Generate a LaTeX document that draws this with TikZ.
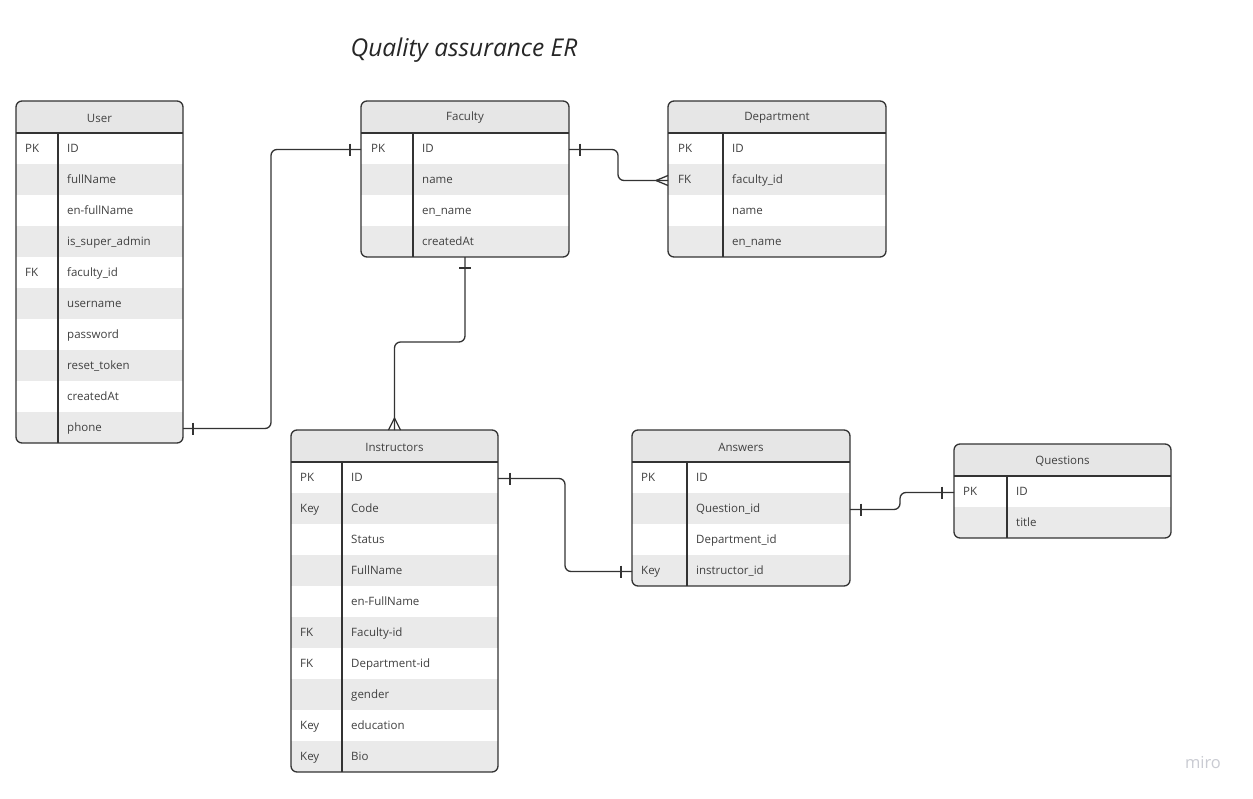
\documentclass[tikz,border=0pt]{standalone}
\usepackage{fontspec}
\setmainfont{Open Sans}
\usetikzlibrary{positioning, calc}
\definecolor{linec}{HTML}{333333}
\definecolor{hdrc}{HTML}{E6E6E6}
\definecolor{stripe}{HTML}{EAEAEA}
\definecolor{txtc}{HTML}{404040}
\definecolor{miroc}{HTML}{C9CBD2}

\begin{document}
\begin{tikzpicture}[
  x=1pt, y=-1pt,
  tbl/.style={draw=linec, line width=1.3pt, rounded corners=6, anchor=north west, inner sep=0pt, outer sep=0pt},
  hdrtxt/.style={font=\fontsize{11.5}{14}\selectfont, text=txtc, inner sep=0pt, yshift=-1pt},
  celltxt/.style={anchor=west, inner sep=0pt, text height=9pt, text depth=3pt, yshift=-1.5pt, font=\fontsize{11.5}{14}\selectfont, text=txtc},
  sep/.style={draw=linec, line width=1.3pt},
  rel/.style={draw=linec, line width=1.3pt, rounded corners=6},
  bar/.style={draw=linec, line width=1.3pt}
]
\fill[white] (0,0) rectangle (1253,798);
\useasboundingbox (0,0) rectangle (1253,798);

% Title
\node[font=\fontsize{24.5}{28}\selectfont\itshape, text=black!85] (Title) at (464,50) {Quality assurance ER};

% User
\begin{scope}
  \clip[rounded corners=6] (16,101) rectangle (183,443);
  \fill[hdrc] (16,101) rectangle (183,133);
  \foreach \k/\f [count=\i] in {PK/ID, /fullName, /en-fullName, /is\_super\_admin, FK/faculty\_id, /username, /password, /reset\_token, /createdAt, /phone}{
    \ifodd\i\else \fill[stripe] (16,{102+31*\i}) rectangle (183,{133+31*\i});\fi
    \node[celltxt] (U-k\i) at (25,{117+31*\i}) {\k};
    \node[celltxt] (U-\i) at (67,{117+31*\i}) {\f};
  }
\end{scope}
\node[tbl, minimum width=167, minimum height=342] (User) at (16,101) {};
\node[hdrtxt] (User-h) at (99.5,117) {User};
\draw[sep] (16,133) -- (183,133) (58,133) -- (58,443);

% Faculty
\begin{scope}
  \clip[rounded corners=6] (361,101) rectangle (569,257);
  \fill[hdrc] (361,101) rectangle (569,133);
  \foreach \k/\f [count=\i] in {PK/ID, /name, /en\_name, /createdAt}{
    \ifodd\i\else \fill[stripe] (361,{102+31*\i}) rectangle (569,{133+31*\i});\fi
    \node[celltxt] (F-k\i) at (371,{117+31*\i}) {\k};
    \node[celltxt] (F-\i) at (422,{117+31*\i}) {\f};
  }
\end{scope}
\node[tbl, minimum width=208, minimum height=156] (Faculty) at (361,101) {};
\node[hdrtxt] (Faculty-h) at (465,117) {Faculty};
\draw[sep] (361,133) -- (569,133) (413,133) -- (413,257);

% Department
\begin{scope}
  \clip[rounded corners=6] (668,101) rectangle (886,257);
  \fill[hdrc] (668,101) rectangle (886,133);
  \foreach \k/\f [count=\i] in {PK/ID, FK/faculty\_id, /name, /en\_name}{
    \ifodd\i\else \fill[stripe] (668,{102+31*\i}) rectangle (886,{133+31*\i});\fi
    \node[celltxt] (D-k\i) at (678,{117+31*\i}) {\k};
    \node[celltxt] (D-\i) at (732,{117+31*\i}) {\f};
  }
\end{scope}
\node[tbl, minimum width=218, minimum height=156] (Department) at (668,101) {};
\node[hdrtxt] (Department-h) at (777,117) {Department};
\draw[sep] (668,133) -- (886,133) (723,133) -- (723,257);

% Instructors
\begin{scope}
  \clip[rounded corners=6] (291,430) rectangle (498,772);
  \fill[hdrc] (291,430) rectangle (498,462);
  \foreach \k/\f [count=\i] in {PK/ID, Key/Code, /Status, /FullName, /en-FullName, FK/Faculty-id, FK/Department-id, /gender, Key/education, Key/Bio}{
    \ifodd\i\else \fill[stripe] (291,{431+31*\i}) rectangle (498,{462+31*\i});\fi
    \node[celltxt] (I-k\i) at (300,{446+31*\i}) {\k};
    \node[celltxt] (I-\i) at (351,{446+31*\i}) {\f};
  }
\end{scope}
\node[tbl, minimum width=207, minimum height=342] (Instructors) at (291,430) {};
\node[hdrtxt] (Instructors-h) at (394.5,446) {Instructors};
\draw[sep] (291,462) -- (498,462) (342,462) -- (342,772);

% Answers
\begin{scope}
  \clip[rounded corners=6] (632,430) rectangle (850,586);
  \fill[hdrc] (632,430) rectangle (850,462);
  \foreach \k/\f [count=\i] in {PK/ID, /Question\_id, /Department\_id, Key/instructor\_id}{
    \ifodd\i\else \fill[stripe] (632,{431+31*\i}) rectangle (850,{462+31*\i});\fi
    \node[celltxt] (A-k\i) at (641,{446+31*\i}) {\k};
    \node[celltxt] (A-\i) at (696,{446+31*\i}) {\f};
  }
\end{scope}
\node[tbl, minimum width=218, minimum height=156] (Answers) at (632,430) {};
\node[hdrtxt] (Answers-h) at (741,446) {Answers};
\draw[sep] (632,462) -- (850,462) (687,462) -- (687,586);

% Questions
\begin{scope}
  \clip[rounded corners=6] (954,444) rectangle (1171,538);
  \fill[hdrc] (954,444) rectangle (1171,476);
  \foreach \k/\f [count=\i] in {PK/ID, /title}{
    \ifodd\i\else \fill[stripe] (954,{445+31*\i}) rectangle (1171,{476+31*\i});\fi
    \node[celltxt] (Q-k\i) at (963,{460+31*\i}) {\k};
    \node[celltxt] (Q-\i) at (1016,{460+31*\i}) {\f};
  }
\end{scope}
\node[tbl, minimum width=217, minimum height=94] (Questions) at (954,444) {};
\node[hdrtxt] (Questions-h) at (1062.5,460) {Questions};
\draw[sep] (954,476) -- (1171,476) (1007,476) -- (1007,538);

% Relations
% User -- Faculty (one to one)
\draw[rel] (User.east |- U-10) -- ++(88,0) |- (Faculty.west |- F-1);
\draw[bar] ($(User.east |- U-10)+(10,-6)$) -- ++(0,12);
\draw[bar] ($(Faculty.west |- F-1)+(-11,-6)$) -- ++(0,12);

% Faculty -- Department (one to many)
\draw[rel] (Faculty.east |- F-1) -- ++(49,0) |- (Department.west |- D-2);
\draw[bar] ($(Faculty.east |- F-1)+(11,-6)$) -- ++(0,12);
\coordinate (cfD) at ($(Department.west |- D-2)+(-12,0)$);
\draw[bar] (cfD) -- ++(12,-5) (cfD) -- ++(12,5);

% Faculty -- Instructors (one to many)
\draw[rel] (Faculty.south) -- ++(0,85) -| (Instructors.north);
\draw[bar] ($(Faculty.south)+(-6,11)$) -- ++(12,0);
\coordinate (cfI) at ($(Instructors.north)+(0,-12)$);
\draw[bar] (cfI) -- ++(-6,12) (cfI) -- ++(6,12);

% Instructors -- Answers
\draw[rel] (Instructors.east |- I-1) -- ++(67,0) |- (Answers.west |- A-4);
\draw[bar] ($(Instructors.east |- I-1)+(12,-6)$) -- ++(0,12);
\draw[bar] ($(Answers.west |- A-4)+(-11,-6)$) -- ++(0,12);

% Answers -- Questions
\draw[rel] (Answers.east |- A-2) -- ++(50,0) |- (Questions.west |- Q-1);
\draw[bar] ($(Answers.east |- A-2)+(11,-6)$) -- ++(0,12);
\draw[bar] ($(Questions.west |- Q-1)+(-12,-6)$) -- ++(0,12);

% watermark
\node[font=\fontsize{16.5}{18}\selectfont, text=miroc] (miro) at (1203,763) {miro};
\end{tikzpicture}
\end{document}
